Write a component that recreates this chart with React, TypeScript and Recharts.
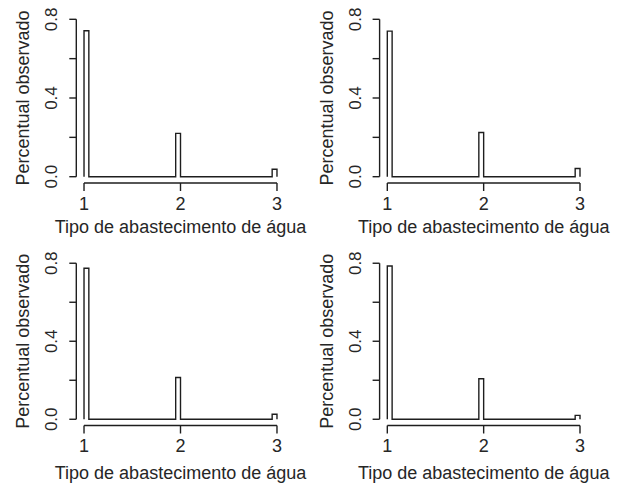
import React from "react";
import { ComposedChart, Line, XAxis, YAxis, ReferenceLine } from "recharts";

// ---------------------------------------------------------------------------
// Data
// ---------------------------------------------------------------------------

const categories = [1, 2, 3];
// histogram bin edges for each water supply type (bin width 0.05)
const binStart = [1, 1.95, 2.95];
const binEnd = [1.05, 2, 3];

const yTicks = [0, 0.2, 0.4, 0.6, 0.8];
const yTickLabels = ["0.0", "", "0.4", "", "0.8"];
const xTickLabels = ["1", "2", "3"];

const valuesTopLeft = [0.742, 0.22, 0.038];
const valuesTopRight = [0.74, 0.225, 0.042];
const valuesBottomLeft = [0.774, 0.214, 0.026];
const valuesBottomRight = [0.786, 0.208, 0.02];

const yTitle = "Percentual observado";
const xTitle = "Tipo de abastecimento de água";

// ---------------------------------------------------------------------------
// Layout / style
// ---------------------------------------------------------------------------

const FONT = "'Liberation Sans', Arial, sans-serif";
const INK = "#1e1e1e";
const TEXT = "#262626";
const X_DOMAIN = [0.92, 3.08];
const Y_DOMAIN = [-0.032, 0.832];

interface PanelLayout {
  left: number;
  top: number;
  width: number;
  height: number;
  plotLeft: number;
  plotRight: number;
  plotTop: number;
  plotBottom: number;
}

function toOutline(values: number[]) {
  const pts: { x: number; y: number }[] = [];
  values.forEach((v, i) => {
    pts.push({ x: binStart[i], y: 0 });
    pts.push({ x: binStart[i], y: v });
    pts.push({ x: binEnd[i], y: v });
    pts.push({ x: binEnd[i], y: 0 });
  });
  return pts;
}

function YTick(props: any) {
  const { x, y, payload } = props;
  const i = yTicks.indexOf(payload.value);
  const label = yTickLabels[i];
  if (!label) return <g />;
  const bx = x - 10;
  return (
    <text
      x={bx}
      y={y}
      transform={`rotate(-90, ${bx}, ${y})`}
      textAnchor="middle"
      fontSize={17}
      fontFamily={FONT}
      fill={TEXT}
    >
      {label}
    </text>
  );
}

function HistPanel({ values, layout }: { values: number[]; layout: PanelLayout }) {
  const data = toOutline(values);
  const xAxisHeight = layout.height - layout.plotBottom;
  return (
    <div style={{ position: "absolute", left: layout.left, top: layout.top }}>
      <ComposedChart
        width={layout.width}
        height={layout.height}
        data={data}
        margin={{
          top: layout.plotTop,
          right: layout.width - layout.plotRight,
          left: 0,
          bottom: 0,
        }}
      >
        <XAxis
          dataKey="x"
          type="number"
          domain={X_DOMAIN}
          ticks={categories}
          interval={0}
          allowDataOverflow
          height={xAxisHeight}
          axisLine={false}
          tickSize={8}
          tickMargin={6}
          tickLine={{ stroke: INK, strokeWidth: 1.4 }}
          tickFormatter={(v) => xTickLabels[categories.indexOf(v)]}
          tick={{ fontSize: 18, fontFamily: FONT, fill: TEXT }}
          label={{
            value: xTitle,
            position: "insideBottom",
            offset: 12,
            fontSize: 18,
            fontFamily: FONT,
            fill: TEXT,
          }}
        />
        <YAxis
          type="number"
          domain={Y_DOMAIN}
          ticks={yTicks}
          interval={0}
          allowDataOverflow
          width={layout.plotLeft}
          axisLine={false}
          tickSize={7}
          tickMargin={2}
          tickLine={{ stroke: INK, strokeWidth: 1.4 }}
          tick={<YTick />}
          label={{
            value: yTitle,
            angle: -90,
            position: "insideLeft",
            offset: layout.plotLeft - 47 - 6.4,
            fontSize: 18,
            fontFamily: FONT,
            fill: TEXT,
            style: { textAnchor: "middle" },
          }}
        />
        {/* R-style axis lines spanning only first to last tick */}
        <ReferenceLine
          segment={[
            { x: X_DOMAIN[0], y: yTicks[0] },
            { x: X_DOMAIN[0], y: yTicks[yTicks.length - 1] },
          ]}
          stroke={INK}
          strokeWidth={1.4}
          ifOverflow="visible"
        />
        <ReferenceLine
          segment={[
            { x: categories[0], y: Y_DOMAIN[0] },
            { x: categories[categories.length - 1], y: Y_DOMAIN[0] },
          ]}
          stroke={INK}
          strokeWidth={1.4}
          ifOverflow="visible"
        />
        <Line
          dataKey="y"
          type="linear"
          stroke={INK}
          strokeWidth={1.4}
          dot={false}
          activeDot={false}
          isAnimationActive={false}
        />
      </ComposedChart>
    </div>
  );
}

const layoutTopLeft: PanelLayout = {
  left: 0, top: 0, width: 312, height: 245,
  plotLeft: 76.3, plotRight: 284.7, plotTop: 13, plotBottom: 183,
};
const layoutTopRight: PanelLayout = {
  left: 312, top: 0, width: 312, height: 245,
  plotLeft: 67.6, plotRight: 275.7, plotTop: 13, plotBottom: 183,
};
const layoutBottomLeft: PanelLayout = {
  left: 0, top: 245, width: 312, height: 246,
  plotLeft: 76.3, plotRight: 284.7, plotTop: 12, plotBottom: 180.5,
};
const layoutBottomRight: PanelLayout = {
  left: 312, top: 245, width: 312, height: 246,
  plotLeft: 67.6, plotRight: 275.7, plotTop: 12, plotBottom: 180.5,
};

export default function App() {
  return (
    <div
      style={{
        position: "absolute",
        left: 0,
        top: 0,
        width: 624,
        height: 491,
        background: "#fff",
        overflow: "hidden",
      }}
    >
      <HistPanel values={valuesTopLeft} layout={layoutTopLeft} />
      <HistPanel values={valuesTopRight} layout={layoutTopRight} />
      <HistPanel values={valuesBottomLeft} layout={layoutBottomLeft} />
      <HistPanel values={valuesBottomRight} layout={layoutBottomRight} />
    </div>
  );
}
